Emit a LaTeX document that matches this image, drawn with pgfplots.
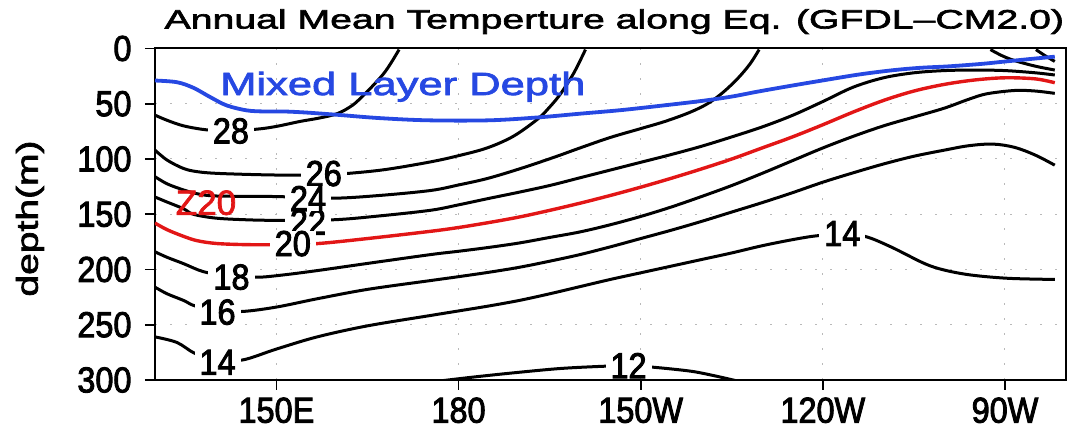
\documentclass[border=0pt]{standalone}
\usepackage{fontspec}
\setmainfont{Liberation Sans}
\newfontfamily\narrowf[FakeStretch=0.9, FakeBold=2.5]{Liberation Sans}
\newfontfamily\widef[FakeStretch=1.3, FakeBold=2.5]{Liberation Sans}
\newfontfamily\mldf[FakeStretch=1.36, FakeBold=2.5]{Liberation Sans}
\newfontfamily\titlef[FakeStretch=1.48, FakeBold=2.5]{Liberation Sans}
\newfontfamily\zf[FakeBold=2]{Liberation Sans}
\usepackage{pgfplots}
\usepackage{pgfplotstable}
\pgfplotsset{compat=1.18}
\definecolor{mldblue}{RGB}{38,72,226}
\definecolor{zred}{RGB}{226,22,22}

\pgfplotstableread{
lon d
130 29
133.6 30.5
136.3 35.5
139.1 44
141.8 51.5
145.1 56
148 57
151.2 57
155 58
160 60
167 63
175 65
185 65
193 62.4
200 59
206.7 55.8
213 52
220 47.5
225 43.5
229.3 39
235 33.5
240.3 28.6
246 23.5
251.3 19.8
256 17.5
260.6 16.2
266 14
270 11.8
274 9.6
278.2 7.4
}\tMLD

\pgfplotstableread{
lon d
130 60.3
132 65
134.7 70
138.3 73.5
142 74.5
146.8 73
150 70.5
153.9 66
157 63
160 59
162.5 51.5
164.4 42
166 33
167.7 22.5
169 12
170.2 1
}\tA

\pgfplotstableread{
lon d
130 92
132 101
134.7 108.6
137 111.5
140.2 113
147 114.2
153.4 114.7
157.5 114.3
161.9 113
168 109.5
175.4 102.6
180 97
184.7 90
189 79.5
193 64
195 53
196.8 41
199 22
200.9 1
}\tB

\pgfplotstableread{
lon d
130 116
132 122.5
134.7 128
137 131.5
140.2 133.5
150 134
159.2 135.5
167 133
175.4 128.5
180 123.5
184.7 117.7
190 109
195.7 98.5
200 90
205 80.5
210 72.5
214 66
218 58
221 50
223.5 40
226 27
228 14
229.5 1
}\tC

\pgfplotstableread{
lon d
130 134.4
132 139
134.7 145
136.3 150
140 153.5
145 155
150 155.5
159.4 155
167 151.5
175.4 146.4
180 141.5
184.7 136
190 130
195 124
200 117
205 110
210 103
215 96
220 88.5
225 80
230 71
235 60.5
240 48
245 35
250 26.5
255 22
260 20
265 19.5
270 20
275 22
278.2 24
}\tD

\pgfplotstableread{
lon d
130 158
132 164
134.7 170
137 174
140.2 176.5
145 177.5
150 177.5
156.6 176.6
165 172
175.3 165.5
180 162
185 157.5
190 152.5
195 146.5
200 140
205 133
210 125.5
215 117.5
220 109
225 100
230 90
235 80
240 69
245 57.5
250 47
255 38.5
260 32.5
265 28.5
270 26.5
275 27.5
278.2 31
}\tE

\pgfplotstableread{
lon d
130 184
132 189
134.7 194.7
138 202
142 205.5
146.8 207
151 205
156.7 201
165 194.5
175.4 186.5
180 183.5
185 180
190 176
195 171
200 166
205 159.5
210 152
215 143.5
220 134
225 124
230 113
235 101.5
240 90
245 79.5
250 70
255 62
260 54
264 46
267 41
271.6 38
275 38.5
278.2 40.6
}\tF

\pgfplotstableread{
lon d
130 216
132 222
134.7 228
136.6 233
140 236.5
144.3 238
150 234
156.7 226.5
165 218
175.4 210
180 206.5
185 202.5
190 198
195 192.5
200 186.5
205 179.5
210 172
215 164.5
220 156.5
225 148
230 139.5
235 130.5
240 121
245 112.5
250 104.5
255 97.5
260 92
264 88
268 86.5
271.6 89.5
275 96.5
278.2 105.6
}\tG

\pgfplotstableread{
lon d
130 261
133.6 266
136.6 276
140 281
144.3 282
150 272
156.7 261
165 251
175.4 241.6
180 237.5
185 233
190 228
195 222
200 215.5
205 209
210 203
215 197
220 191
225 185
230 178.5
235 173
239 169.5
243 168.5
246.9 170
251.2 179.5
256.7 194.5
260 200.5
264.4 205
270.6 208
278.2 209
}\tH

\pgfplotstableread{
lon d
177.5 300.5
183 297
190 293
197 289.5
204.2 287.5
208 287
212.2 288.5
218.2 292
222 296
225.6 300.5
}\tI

\pgfplotstableread{
lon d
267.6 1
269.5 6.5
271.6 11
275 16
278.2 19.5
}\tJ

\pgfplotstableread{
lon d
275.1 1
276.6 6.5
278.2 11.7
}\tK

\begin{document}
\begin{tikzpicture}
\path[use as bounding box] (-155pt,-50pt) rectangle (912pt,380pt);
\begin{axis}[
  at={(0pt,0pt)}, anchor=south west,
  scale only axis, width=910.7pt, height=331.5pt,
  xmin=130, xmax=280, ymin=-300, ymax=0,
  xtick={150,180,210,240,270},
  xticklabels={150E,180,150W,120W,90W},
  ytick={-300,-250,-200,-150,-100,-50,0},
  yticklabels={300,250,200,150,100,50,0},
  xtick pos=left, ytick pos=left,
  tick align=outside,
  major tick length=10pt,
  every tick/.style={black, line width=1.8pt},
  axis line style={line width=2pt},
  grid=major,
  grid style={gray!55, line width=1pt, dash pattern=on 2pt off 13pt},
  ticklabel style={font=\narrowf\fontsize{36}{40}\selectfont},
  xticklabel style={yshift=-4pt},
  yticklabel style={xshift=-10pt},
  ylabel={depth(m)},
  ylabel style={font=\widef\fontsize{30}{34}\selectfont, at={(axis description cs:-0.1373,0.487)}, anchor=center},
  title={Annual Mean Temperture along Eq. (GFDL\textendash CM2.0)},
  title style={font=\titlef\fontsize{26.5}{30}\selectfont, at={(axis description cs:0.5,1)}, anchor=base, yshift=14pt, xshift=4pt},
  every axis plot/.append style={smooth, tension=0.55},
]
\addplot[black, line width=3pt] table[x=lon, y expr=-\thisrow{d}] {\tA};
\addplot[black, line width=3pt] table[x=lon, y expr=-\thisrow{d}] {\tB};
\addplot[black, line width=3pt] table[x=lon, y expr=-\thisrow{d}] {\tC};
\addplot[black, line width=3pt] table[x=lon, y expr=-\thisrow{d}] {\tD};
\addplot[black, line width=3pt] table[x=lon, y expr=-\thisrow{d}] {\tF};
\addplot[black, line width=3pt] table[x=lon, y expr=-\thisrow{d}] {\tG};
\addplot[black, line width=3pt] table[x=lon, y expr=-\thisrow{d}] {\tH};
\addplot[black, line width=3pt] table[x=lon, y expr=-\thisrow{d}] {\tI};
\addplot[black, line width=3pt] table[x=lon, y expr=-\thisrow{d}] {\tJ};
\addplot[black, line width=3pt] table[x=lon, y expr=-\thisrow{d}] {\tK};
\addplot[zred, line width=3.4pt] table[x=lon, y expr=-\thisrow{d}] {\tE};
\addplot[mldblue, line width=3.8pt] table[x=lon, y expr=-\thisrow{d}] {\tMLD};
\tikzset{clab/.style={fill=white, inner xsep=5pt, inner ysep=0pt, font=\narrowf\fontsize{36}{40}\selectfont}}
\node[clab] at (axis cs:142.5,-74.6) {28};
\node[clab] at (axis cs:157.8,-113.2) {26};
\node[clab] at (axis cs:155.2,-157) {22};
\node[clab] at (axis cs:155.2,-135.8) {24};
\node[clab] at (axis cs:152.7,-176.6) {20};
\node[clab] at (axis cs:142.6,-206.9) {18};
\node[clab] at (axis cs:140.3,-238.6) {16};
\node[clab] at (axis cs:140.3,-284) {14};
\node[clab] at (axis cs:243.2,-167.5) {14};
\node[clab] at (axis cs:208,-287) {12};
\node[text=zred, font=\zf\fontsize{35}{40}\selectfont] at (axis cs:138.4,-139.6) {Z20};
\node[anchor=west, text=mldblue, font=\mldf\fontsize{32}{36}\selectfont, inner sep=0pt] at (axis cs:140.7,-34.6) {Mixed Layer Depth};
\end{axis}
\end{tikzpicture}
\end{document}
